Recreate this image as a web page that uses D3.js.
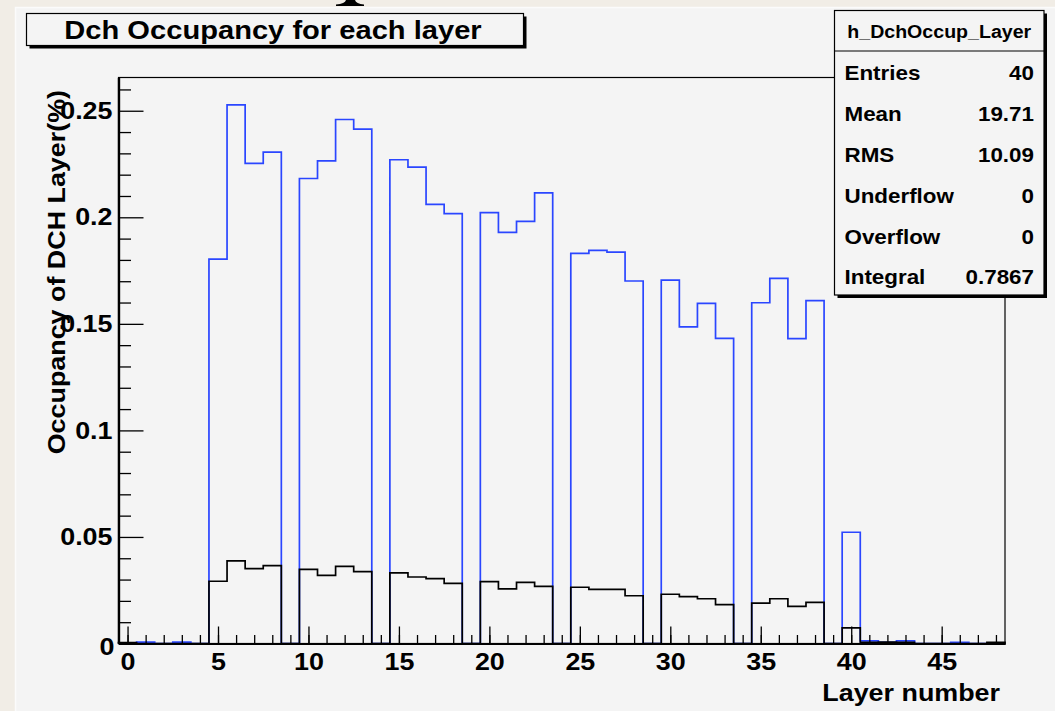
<!DOCTYPE html>
<html>
<head>
<meta charset="utf-8">
<script src="https://cdn.jsdelivr.net/npm/d3@7"></script>
<style>
  html, body { margin: 0; padding: 0; background: #f1ede6; }
  svg { display: block; }
  text { font-family: "Liberation Sans", Arial, Helvetica, sans-serif; font-weight: bold; fill: #000; }
</style>
</head>
<body>
<svg id="chart" width="1055" height="711"></svg>
<script>
// Layer numbers (bin centres of the histogram)
const layers = [0,1,2,3,4,5,6,7,8,9,10,11,12,13,14,15,16,17,18,19,20,21,22,23,24,
                25,26,27,28,29,30,31,32,33,34,35,36,37,38,39,40,41,42,43,44,45,46,47,48];

// Occupancy per layer (%), blue histogram
const occupancyBlue = [0,0.0006,0,0.0006,0,0.1804,0.2528,0.2253,0.2306,0,
                       0.2182,0.2265,0.2459,0.2414,0,0.2270,0.2235,0.2061,0.2017,0,
                       0.2022,0.1929,0.1981,0.2115,0,0.1831,0.1845,0.1837,0.1701,0,
                       0.1705,0.1486,0.1596,0.1432,0,0.1599,0.1713,0.1431,0.1609,0,
                       0.0522,0.0012,0.0005,0.0012,0,0,0.0005,0,0];

// Occupancy per layer (%), black histogram
const occupancyBlack = [0.0004,0,0,0,0,0.0292,0.0388,0.0351,0.0365,0,
                        0.0348,0.0320,0.0362,0.0337,0,0.0331,0.0312,0.0304,0.0282,0,
                        0.0290,0.0256,0.0287,0.0268,0,0.0264,0.0254,0.0254,0.0224,0,
                        0.0231,0.0220,0.0210,0.0182,0,0.0189,0.0210,0.0174,0.0193,0,
                        0.0073,0.0005,0.0006,0.0005,0,0,0,0,0.0005];

// Axis ticks and labels
const xMajorTicks = [0,5,10,15,20,25,30,35,40,45];
const xMinorTicks = layers;
const yMajorTicks = [0,0.05,0.1,0.15,0.2,0.25];
const yMajorLabels = ["0","0.05","0.1","0.15","0.2","0.25"];
const yMinorTicks = [0.01,0.02,0.03,0.04,0.06,0.07,0.08,0.09,0.11,0.12,0.13,0.14,
                     0.16,0.17,0.18,0.19,0.21,0.22,0.23,0.24,0.26];

// Statistics box
const statsTitle = "h_DchOccup_Layer";
const statsNames = ["Entries","Mean","RMS","Underflow","Overflow","Integral"];
const statsValues = ["40","19.71","10.09","0","0","0.7867"];

const titleText = "Dch Occupancy for each layer";
const xTitle = "Layer number";
const yTitle = "Occupancy of DCH Layer(%)";

// the lettering is set a little wide
const WIDE = 1.12;
function widen(sel) {
  sel.each(function () {
    const t = d3.select(this);
    const x0 = +(t.attr("x") || 0);
    const prev = t.attr("transform") || "";
    t.attr("x", x0 / WIDE).attr("transform", `${prev} scale(${WIDE},1)`.trim());
  });
}

const svg = d3.select("#chart");

// ---- page and canvas ----
svg.append("rect").attr("x", 0).attr("y", 0).attr("width", 1055).attr("height", 711)
   .attr("fill", "#f1ede6");
// foot of a heading glyph cut by the top edge
svg.append("path")
   .attr("d", "M336,6 L364,6 L364,4.6 Q356,3.8 355,0 L346,0 Q345,3.8 336,4.6 Z")
   .attr("fill", "#000");
svg.append("rect").attr("x", 15).attr("y", 7).attr("width", 1040).attr("height", 704)
   .attr("fill", "#f4f4f4");
svg.append("path").attr("d", "M15.5,711 L15.5,7.5 L1055,7.5")
   .attr("fill", "none").attr("stroke", "#fbfbfb").attr("stroke-width", 1.5);

// ---- plot frame ----
const F = { left: 118.5, right: 1005, top: 77.5, bottom: 643.5 };
const x = d3.scaleLinear().domain([-0.5, 48.5]).range([F.left, F.right]);
const y = d3.scaleLinear().domain([0, 0.2656]).range([F.bottom, F.top]);

svg.append("rect")
   .attr("x", F.left).attr("y", F.top)
   .attr("width", F.right - F.left).attr("height", F.bottom - F.top)
   .attr("fill", "#f4f4f4").attr("stroke", "#000").attr("stroke-width", 1.2);

// ---- histograms (step outlines) ----
function stepPath(values) {
  const pts = [[x(-0.5), y(0)]];
  values.forEach((v, i) => {
    pts.push([x(layers[i] - 0.5), y(v)]);
    pts.push([x(layers[i] + 0.5), y(v)]);
  });
  pts.push([x(48.5), y(0)]);
  return d3.line()(pts);
}

svg.append("path").attr("d", stepPath(occupancyBlue))
   .attr("fill", "none").attr("stroke", "#2a46ff").attr("stroke-width", 1.7);
svg.append("path").attr("d", stepPath(occupancyBlack))
   .attr("fill", "none").attr("stroke", "#000").attr("stroke-width", 1.7);

// ---- axes ----
const yMinor = d3.axisLeft(y).tickValues(yMinorTicks).tickSizeInner(-12.5).tickSizeOuter(0)
   .tickFormat("");
const yMajor = d3.axisLeft(y).tickValues(yMajorTicks).tickSizeInner(-25).tickSizeOuter(0)
   .tickPadding(6).tickFormat((d, i) => yMajorLabels[i]);
const xMinor = d3.axisBottom(x).tickValues(xMinorTicks).tickSizeInner(-8.5).tickSizeOuter(0)
   .tickFormat("");
const xMajor = d3.axisBottom(x).tickValues(xMajorTicks).tickSizeInner(-17).tickSizeOuter(0)
   .tickPadding(9).tickFormat(d3.format("d"));

function styleAxis(g) {
  g.selectAll("line").attr("stroke", "#000").attr("stroke-width", 1.3);
  g.selectAll("path.domain").attr("stroke", "#000").attr("stroke-width", 2.2);
  g.selectAll("text").attr("font-size", 24).attr("font-family", null).attr("fill", "#000")
   .call(widen);
}
svg.append("g").attr("transform", `translate(${F.left},0)`).call(yMinor).call(styleAxis);
const gy = svg.append("g").attr("transform", `translate(${F.left},0)`).call(yMajor).call(styleAxis);
// the zero label sits a little lower
gy.selectAll(".tick").filter(d => d === 0).select("text")
  .attr("x", -4 / WIDE).attr("dy", "0.45em");
svg.append("g").attr("transform", `translate(0,${F.bottom})`).call(xMinor).call(styleAxis);
svg.append("g").attr("transform", `translate(0,${F.bottom})`).call(xMajor).call(styleAxis);

// axis titles
svg.append("text").attr("x", 1000).attr("y", 701).attr("text-anchor", "end")
   .attr("font-size", 24).text(xTitle).call(widen);
svg.append("text").attr("transform", "translate(65,90) rotate(-90)")
   .attr("text-anchor", "end").attr("font-size", 24).text(yTitle).call(widen);

// ---- title box ----
const T = { x: 26.5, y: 13.5, w: 497, h: 32 };
svg.append("rect").attr("x", T.x + 3).attr("y", T.y + 3).attr("width", T.w).attr("height", T.h)
   .attr("fill", "#000");
svg.append("rect").attr("x", T.x).attr("y", T.y).attr("width", T.w).attr("height", T.h)
   .attr("fill", "#f4f4f4").attr("stroke", "#000").attr("stroke-width", 1.2);
svg.append("text").attr("x", T.x + T.w / 2 - 2).attr("y", T.y + 25.5).attr("text-anchor", "middle")
   .attr("font-size", 26).text(titleText).call(widen);

// ---- statistics box ----
const S = { x: 834.5, y: 10.5, w: 209.5, h: 284.5, head: 40.5 };
svg.append("rect").attr("x", S.x + 3).attr("y", S.y + 3).attr("width", S.w).attr("height", S.h)
   .attr("fill", "#000");
svg.append("rect").attr("x", S.x).attr("y", S.y).attr("width", S.w).attr("height", S.h)
   .attr("fill", "#f4f4f4").attr("stroke", "#000").attr("stroke-width", 1.2);
svg.append("line").attr("x1", S.x).attr("x2", S.x + S.w)
   .attr("y1", S.y + S.head).attr("y2", S.y + S.head)
   .attr("stroke", "#000").attr("stroke-width", 1.2);
svg.append("text").attr("x", S.x + S.w / 2).attr("y", S.y + 28).attr("text-anchor", "middle")
   .attr("font-size", 17.5).text(statsTitle).call(widen);

const rowY = d3.scalePoint().domain(statsNames).range([S.y + 70, S.y + 274]);
const rows = svg.append("g").selectAll("g").data(statsNames).join("g");
rows.append("text").attr("x", S.x + 10).attr("y", d => rowY(d))
   .attr("font-size", 20).text(d => d).call(widen);
rows.append("text").attr("x", S.x + S.w - 10).attr("y", d => rowY(d))
   .attr("text-anchor", "end").attr("font-size", 20).text((d, i) => statsValues[i]).call(widen);
</script>
</body>
</html>
